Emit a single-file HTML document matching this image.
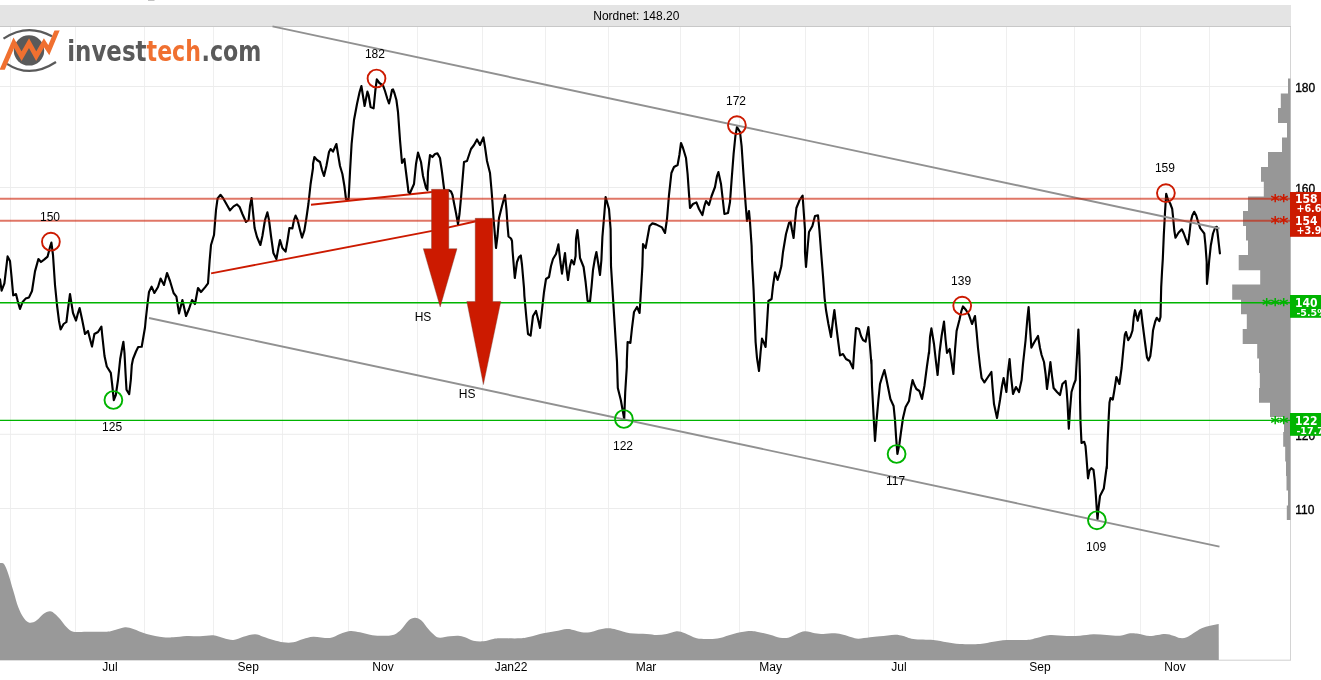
<!DOCTYPE html>
<html lang="en"><head><meta charset="utf-8"><title>Nordnet chart</title>
<style>html,body{margin:0;padding:0;background:#fff;overflow:hidden}body{width:1321px;height:680px;position:relative}</style>
</head><body>
<svg width="1321" height="680" viewBox="0 0 1321 680" style="position:absolute;left:0;top:0;display:block" font-family="'Liberation Sans', Arial, sans-serif">
<rect x="0" y="0" width="1321" height="680" fill="#ffffff"/>
<rect x="148" y="0" width="6.5" height="1" fill="#c2c2c2"/>
<line x1="10.5" y1="26" x2="10.5" y2="660" stroke="#efefef" stroke-width="1"/>
<line x1="75.5" y1="26" x2="75.5" y2="660" stroke="#efefef" stroke-width="1"/>
<line x1="144.5" y1="26" x2="144.5" y2="660" stroke="#efefef" stroke-width="1"/>
<line x1="213.5" y1="26" x2="213.5" y2="660" stroke="#efefef" stroke-width="1"/>
<line x1="282.5" y1="26" x2="282.5" y2="660" stroke="#efefef" stroke-width="1"/>
<line x1="348.5" y1="26" x2="348.5" y2="660" stroke="#efefef" stroke-width="1"/>
<line x1="417.5" y1="26" x2="417.5" y2="660" stroke="#efefef" stroke-width="1"/>
<line x1="482.5" y1="26" x2="482.5" y2="660" stroke="#efefef" stroke-width="1"/>
<line x1="545.5" y1="26" x2="545.5" y2="660" stroke="#efefef" stroke-width="1"/>
<line x1="608.5" y1="26" x2="608.5" y2="660" stroke="#efefef" stroke-width="1"/>
<line x1="680.5" y1="26" x2="680.5" y2="660" stroke="#efefef" stroke-width="1"/>
<line x1="739.5" y1="26" x2="739.5" y2="660" stroke="#efefef" stroke-width="1"/>
<line x1="805.5" y1="26" x2="805.5" y2="660" stroke="#efefef" stroke-width="1"/>
<line x1="868.5" y1="26" x2="868.5" y2="660" stroke="#efefef" stroke-width="1"/>
<line x1="933.5" y1="26" x2="933.5" y2="660" stroke="#efefef" stroke-width="1"/>
<line x1="1006.5" y1="26" x2="1006.5" y2="660" stroke="#efefef" stroke-width="1"/>
<line x1="1074.5" y1="26" x2="1074.5" y2="660" stroke="#efefef" stroke-width="1"/>
<line x1="1140.5" y1="26" x2="1140.5" y2="660" stroke="#efefef" stroke-width="1"/>
<line x1="1209.5" y1="26" x2="1209.5" y2="660" stroke="#efefef" stroke-width="1"/>
<line x1="0" y1="86.5" x2="1290" y2="86.5" stroke="#ececec" stroke-width="1"/>
<line x1="0" y1="187.5" x2="1290" y2="187.5" stroke="#ececec" stroke-width="1"/>
<line x1="0" y1="302.5" x2="1290" y2="302.5" stroke="#ececec" stroke-width="1"/>
<line x1="0" y1="434.3" x2="1290" y2="434.3" stroke="#ececec" stroke-width="1"/>
<line x1="0" y1="508.5" x2="1290" y2="508.5" stroke="#ececec" stroke-width="1"/>
<line x1="1290.5" y1="26" x2="1290.5" y2="660" stroke="#d4d4d4" stroke-width="1"/>
<line x1="0" y1="660.2" x2="1291" y2="660.2" stroke="#cfcfcf" stroke-width="1"/>
<rect x="0" y="5" width="1291" height="21" fill="#e4e4e4"/>
<line x1="0" y1="26.5" x2="1291" y2="26.5" stroke="#c8c8c8" stroke-width="1"/>
<text x="636.3" y="19.7" font-size="12" text-anchor="middle" fill="#000">Nordnet: 148.20</text>
<path d="M0,660 L0,563 C0.7,563.2 2.6,562.2 4,564 C5.4,565.8 6.8,569.5 8.3,574 C9.9,578.5 11.6,585.2 13.3,590.7 C15.0,596.2 16.6,602.9 18.3,607.3 C20.0,611.7 21.6,614.8 23.3,617.3 C25.0,619.8 26.6,621.5 28.3,622.3 C30.0,623.1 31.6,622.8 33.3,622.3 C35.0,621.8 36.6,620.4 38.3,619 C40.0,617.6 41.3,615.3 43.3,614 C45.2,612.7 48.0,611.3 50,611.3 C52.0,611.3 53.3,612.7 55,614 C56.7,615.3 58.0,616.8 60,619 C62.0,621.2 64.5,625.2 66.7,627.3 C68.9,629.4 70.0,631.0 73.3,631.7 C76.6,632.4 81.1,631.7 86.7,631.7 C92.3,631.7 102.0,632.0 106.7,631.7 C111.4,631.4 112.0,630.7 115,630 C118.0,629.3 122.0,627.5 125,627.3 C128.1,627.1 129.7,627.9 133.3,629 C136.9,630.1 141.7,632.6 146.7,634 C151.7,635.4 158.9,636.8 163.3,637.3 C167.7,637.8 169.4,637.5 173.3,637.3 C177.2,637.1 182.2,636.2 186.7,636 C191.1,635.8 195.6,636.4 200,636.3 C204.4,636.2 209.4,635.0 213.3,635.3 C217.2,635.6 220.0,637.2 223.3,638 C226.6,638.8 230.0,640.2 233.3,640 C236.6,639.8 239.7,637.7 243.3,636.7 C246.9,635.8 251.7,634.3 255,634.3 C258.3,634.3 260.2,635.8 263.3,636.7 C266.4,637.7 270.0,639.1 273.3,640 C276.6,640.9 280.0,641.9 283.3,642.3 C286.6,642.7 290.0,642.8 293.3,642.3 C296.6,641.8 300.0,639.9 303.3,639 C306.6,638.1 308.9,636.9 313.3,636.7 C317.8,636.5 325.6,638.5 330,638 C334.4,637.5 336.7,635.2 340,634 C343.3,632.8 346.7,631.3 350,631 C353.3,630.7 356.7,631.7 360,632.3 C363.3,632.9 366.7,634.1 370,634.7 C373.3,635.3 376.4,635.6 380,635.7 C383.6,635.8 388.4,636.1 391.7,635.3 C395.0,634.5 397.2,633.1 400,630.7 C402.8,628.3 405.8,622.9 408.3,620.7 C410.8,618.5 412.8,617.7 415,617.7 C417.2,617.7 419.5,618.8 421.7,620.7 C423.9,622.6 426.1,626.5 428.3,629 C430.5,631.5 433.1,634.2 435,635.7 C436.9,637.2 437.5,637.6 440,637.7 C442.5,637.8 446.9,636.6 450,636.3 C453.1,636.0 455.8,635.5 458.3,635.7 C460.8,635.9 462.5,636.5 465,637.3 C467.5,638.1 470.2,640.0 473.3,640.7 C476.4,641.4 480.0,641.6 483.3,641.3 C486.6,641.0 490.5,639.5 493.3,639 C496.1,638.5 495.6,638.4 500,638.3 C504.4,638.2 515.0,638.6 520,638.3 C525.0,638.0 526.1,637.5 530,636.7 C533.9,635.9 539.1,634.2 543.3,633.3 C547.5,632.4 551.1,632.0 555,631.3 C558.9,630.6 563.7,629.2 566.7,629 C569.8,628.8 570.8,629.5 573.3,630 C575.8,630.5 578.9,631.9 581.7,632.3 C584.5,632.7 587.2,632.7 590,632.3 C592.8,631.9 595.2,630.4 598.3,629.7 C601.3,629.0 605.2,628.3 608.3,628.3 C611.4,628.3 613.1,628.9 616.7,629.7 C620.3,630.5 625.0,632.6 630,633.3 C635.0,634.0 642.2,633.7 646.7,634 C651.2,634.3 653.4,635.0 656.7,635 C660.0,635.0 663.4,634.6 666.7,634 C670.0,633.4 673.7,631.4 676.7,631.3 C679.8,631.2 681.7,632.1 685,633.3 C688.3,634.5 692.5,637.3 696.7,638.3 C700.9,639.2 706.1,639.0 710,639 C713.9,639.0 716.1,638.8 720,638 C723.9,637.2 728.8,635.1 733.3,634 C737.8,632.9 742.8,631.7 746.7,631.3 C750.6,630.9 752.8,631.1 756.7,631.7 C760.6,632.3 766.1,633.7 770,634.7 C773.9,635.7 777.0,637.2 780,637.7 C783.0,638.2 785.5,638.3 788.3,637.7 C791.1,637.1 793.9,635.1 796.7,634 C799.5,632.9 802.0,631.4 805,631.3 C808.0,631.2 812.0,632.8 815,633.3 C818.0,633.8 820.0,634.0 823.3,634 C826.6,634.0 831.7,633.2 835,633.3 C838.3,633.4 840.5,634.0 843.3,634.7 C846.1,635.4 849.2,636.6 851.7,637.3 C854.2,638.0 855.2,638.7 858.3,638.7 C861.3,638.7 866.4,637.7 870,637.3 C873.6,636.9 875.8,636.7 880,636.3 C884.2,635.9 891.1,634.8 895,634.7 C898.9,634.7 900.2,635.3 903.3,636 C906.3,636.7 908.3,638.3 913.3,639 C918.3,639.7 927.7,639.5 933.3,640 C938.9,640.5 942.2,641.6 946.7,642.3 C951.2,643.0 954.5,643.7 960,644 C965.5,644.3 974.5,644.4 980,644 C985.5,643.6 988.8,642.4 993.3,641.7 C997.8,641.0 1001.1,640.3 1006.7,640 C1012.3,639.7 1021.7,640.3 1026.7,640 C1031.7,639.7 1032.8,638.8 1036.7,638 C1040.6,637.2 1045.0,635.3 1050,635 C1055.0,634.7 1061.7,635.9 1066.7,636 C1071.7,636.1 1075.6,636.0 1080,635.7 C1084.4,635.4 1088.8,634.4 1093.3,634.3 C1097.8,634.2 1102.2,634.8 1106.7,635 C1111.2,635.2 1116.1,636.0 1120,635.7 C1123.9,635.4 1127.0,633.6 1130,633.3 C1133.0,633.0 1135.0,633.2 1138.3,633.7 C1141.6,634.2 1145.5,636.0 1150,636 C1154.5,636.0 1161.1,634.0 1165,634 C1168.9,634.0 1170.8,635.0 1173.3,635.7 C1175.8,636.4 1177.8,637.7 1180,638 C1182.2,638.3 1184.5,638.1 1186.7,637.3 C1188.9,636.5 1190.8,634.8 1193.3,633.3 C1195.8,631.8 1198.9,629.6 1201.7,628.3 C1204.5,627.0 1207.2,626.4 1210,625.7 C1212.8,625.0 1217.2,624.3 1218.7,624 L1218.8,660 Z" fill="#999999"/>
<polygon points="1290.5,78.5 1288,78.5 1288,93.5 1280.8,93.5 1280.8,108 1278,108 1278,123 1287,123 1287,137.5 1282,137.5 1282,152 1268,152 1268,167 1261,167 1261,181.8 1263.8,181.8 1263.8,196.5 1248,196.5 1248,211 1243,211 1243,226 1246,226 1246,240.5 1248,240.5 1248,255 1238.7,255 1238.7,270.2 1260.2,270.2 1260.2,284.5 1232.2,284.5 1232.2,299.7 1241,299.7 1241,314.3 1246.8,314.3 1246.8,329 1242.7,329 1242.7,344 1257.2,344 1257.2,358.5 1259,358.5 1259,373 1259.8,373 1259.8,388 1259,388 1259,402.8 1270,402.8 1270,417 1284,417 1284,432 1283.2,432 1283.2,446.8 1285.2,446.8 1285.2,461.5 1286,461.5 1286,476 1286.5,476 1286.5,490.5 1288,490.5 1288,505.5 1286.8,505.5 1286.8,520 1290.5,520" fill="#979797"/>
<text x="1295.2" y="91.8" font-size="12" fill="#000" stroke="#000" stroke-width="0.35">180</text>
<text x="1295.2" y="192.8" font-size="12" fill="#000" stroke="#000" stroke-width="0.35">160</text>
<text x="1295.2" y="439.6" font-size="12" fill="#000" stroke="#000" stroke-width="0.35">120</text>
<text x="1295.2" y="513.8" font-size="12" fill="#000" stroke="#000" stroke-width="0.35">110</text>
<text x="110" y="671" font-size="12" text-anchor="middle" fill="#000">Jul</text>
<text x="248.3" y="671" font-size="12" text-anchor="middle" fill="#000">Sep</text>
<text x="383" y="671" font-size="12" text-anchor="middle" fill="#000">Nov</text>
<text x="511" y="671" font-size="12" text-anchor="middle" fill="#000">Jan22</text>
<text x="646" y="671" font-size="12" text-anchor="middle" fill="#000">Mar</text>
<text x="770.7" y="671" font-size="12" text-anchor="middle" fill="#000">May</text>
<text x="899" y="671" font-size="12" text-anchor="middle" fill="#000">Jul</text>
<text x="1040" y="671" font-size="12" text-anchor="middle" fill="#000">Sep</text>
<text x="1175" y="671" font-size="12" text-anchor="middle" fill="#000">Nov</text>
<line x1="311" y1="204.8" x2="432" y2="192" stroke="#cc1a00" stroke-width="1.9"/>
<polyline points="211.1,273.4 440,229.4 476,221.2" fill="none" stroke="#cc1a00" stroke-width="1.9"/>
<polyline points="0,279.4 1.6,290.6 4.4,283.4 7.6,256.4 10,261 11.6,277.4 13.2,295.4 16,294 17.6,300.6 20,309 22.6,302 25.6,298.6 29,297.4 32,291 35,271.4 38.4,259 41,262 44.4,259.4 47.6,256.6 50,247 51.4,242.6 53,255 55,285 57,305 59,321 60.6,329.4 63.6,324 66.4,322 68,309 70,294 71.4,303 73,313 76,320.6 78,313 79.6,308 82,319 85,334 88,331 90,339 92,346.6 94.4,334 98,332 101.4,326.6 102.2,335 104.5,356 106.8,366.5 110.8,372.8 112,383 113.8,400.2 115.8,395 118,380 120.2,359 122.2,347.8 123.4,341.8 124.5,353 125.5,372.5 126.5,389.8 129.2,394.2 130.8,380 131.8,365 133,359 136,351.5 138.2,347 141.7,346.7 143.2,338 145,327.5 145.6,321 147.6,303 149,292 151.6,286.6 154.4,293 158,287 160.6,278.6 164,285 167,273 170,281 173.6,293 176.4,296.6 179,313.4 182.4,300 186,316 189,309 192,300 195,304 198,288 201,292 205,287.4 208,283.4 209.6,261 211,245 214,235 216,210 217.6,198.4 220.4,194.8 223,198 226.4,204 230,210.4 233.6,206.4 237,204.4 239.6,207 242.4,214 246,222 248.6,220 250,206 251.6,198 253,212 254.6,228 257,237 260.4,245 262.4,236 265,220 267.4,212.4 269,220 271,236 273.4,253 276.4,259 278.4,248 280,240 282.4,248 285.6,251.6 287.6,240 289.4,228 292.4,228.4 294,220 295.6,215.6 297.6,220 300,230 302,237.6 304.4,230.4 306.4,218 308.4,204 310.6,184 313,168 313,164 314.4,157 317,160 320,162 322,170 324,176 326.4,166 329,152 330.6,149 333,151.6 336.4,144 338,154 340,166 342.4,174 344.4,186 346,199 348.6,199 350,172 351.6,144 354,120 357,104 359.6,92 361.4,86 363,96 364.6,106 367.4,91.6 368.6,95 370.6,107 373.6,108.4 375.4,90 376.8,79.4 379.4,83 383,85.4 385,91 387.4,99 389,103.4 390.4,98 392,90 393,89.4 394.4,93 396.4,100 398,112 400,140 402,163 404.4,159 406,172 408,188 408.4,192 410,193 414,184 416,164 418,152.6 421,162 423,176 426,188 427.4,190 428,172 430,155 432.4,157 435,154 437.4,153.4 440,158 442,172 443.6,185 444.4,191 448.8,190.3 451,191.5 452.5,195 454,203 456,213 458,224 459.5,214 461,198 464,162 467,161 469,155 471,149 474,145 477,139.4 480,145 483.4,137.4 485,147 487,161 490,173 491.5,190 492.5,203 493.5,218 495,236 496,248 497.5,236 499,218 502,206 505,195 506.5,210 507.5,225 508.5,236.5 511,238.5 512,241 512.5,250 514.8,278 517,262 519,257 520.8,255.5 522,265 524,288 524.4,296 526.4,318 528,334 530.6,335.6 533,316 536,311 538,319 540,328 542,310 544,292 546,279 549,277 551,266 553,259 556,254 558.4,244.4 560.4,262 562,273.6 563.6,262 565,253 566.4,268 568,280 570,266 571.6,260 574,264.4 575.6,256 576,239 577.4,230 579,245 580,258 583.6,267 585.6,282 587.6,301 590,301.6 591.6,286 593,270 595,258 596.4,252 598,262 600,275 601.4,260 602.4,237 604.4,213 605.6,197 609,209 610.6,229 611,266 613,298 615,330 617,362 617.8,388 620.8,400 624.2,418.8 625.2,392.5 626.8,367 626.8,362 627.6,342 630.4,343 632,328 634,312 637,307 639.6,313 641,290 642.4,266 643,244 645.6,248 647.6,237 649.6,226 652.4,223.4 656,224.4 662,227.4 665,233 667,219 669,195 671.4,173 674,167 677.6,165 679.4,155 681,143 683,148 686,158 687.6,174 689,194 690,208 693,204 696.4,202.4 699,209 702.4,215 704.4,206 706,201 709,205 711.6,196 715,187 717,176 718.4,172 721,184 722.6,198 724.4,214 728,213 730,202 731.6,180 733.6,154 735.4,136 737,127 740,132 741.6,146 743.6,176 745.6,204 747,221 749,211 750,222 751.6,246 752,260 753.6,290 754.6,316 755.6,342 757,358 759,371 760.6,352 762,338.6 764,343 765.6,347 767,324 768.4,301 771.6,299 773,286 775,272.4 777.6,280 779.4,274 781.4,266 783,252 786,234 789,223 790.6,222 792,230 793.6,238 795,222 796.4,208 799.6,200 802.6,195.6 803.6,210 805,230 805,252 806,267 807.4,250 809,232 812.4,226 815,216 818,215.4 819.4,230 821.4,256 823,276 824.6,298 826,310 828.4,324 831,337 833,320 834.4,310 836,324 838,340 840,355.4 843,354 846,359 849.6,361 853,368.4 854.4,348 856,328 859,329 861,336 863,340 865.6,341.6 867,334 868.4,327 870,346 871.4,364 871.4,360 872,386 873.6,416 875,441 876.6,420 878.4,400 880,384 882.4,376 884.4,370 886.4,379 888.4,389 890.4,399 893.6,406 895,420 896,436 897.4,454 899.4,444 901,432 903,418 905.6,407 909,401 911,388 912.6,380 914.4,385 916.4,389 919.4,391 922,399 924.4,386 927,366 929,352 929,354 930,337 931.4,328.4 934,344 936,362 937.6,375 939.6,352 941.6,336 944,321.6 945.6,340 947,353 949.6,349 951.6,362 953.4,374 955,350 956.6,331 959.4,320 961.4,311 963,306.4 966,310 969,315 972,324 975,316 976.6,332 978,348 980,366 981.6,378 984.4,382.4 988,377 991.4,372 992.6,388 994,404 997,418 1000,400 1002,386 1003.6,378 1006.4,392 1008,372 1009.6,359 1011,376 1013,394 1016,387 1019,392 1021.6,380 1023,364 1025.6,340 1027.4,318 1028.6,307 1030,328 1031.4,347.6 1034.4,342 1038,336 1040,348 1041.6,355 1044,362 1045.6,374 1047,389 1049,374 1050.4,362 1052,376 1053.6,388 1057,392 1060,395 1062.4,384 1065.6,381 1066.6,390 1067.5,402.5 1068.8,428.8 1070,410 1071.5,392 1073.8,384.5 1075.6,380 1077,356 1078.4,329.6 1079.4,356 1080,380 1080,398 1080.5,422 1081.5,443 1084.2,441.8 1085.5,446 1086.5,458 1088,478.2 1088,478.3 1089.5,470.5 1091.3,468.2 1093.5,469.8 1094.8,481 1095.8,494.5 1096.7,508 1097.5,519.2 1098.5,508 1100,496 1103.8,488.5 1105.2,478 1106.8,466 1106.8,468.5 1107.5,444.5 1108.7,417.5 1109.5,402.5 1110.5,398 1112.8,399.5 1114.2,391.2 1115.5,383 1116.4,377 1119.4,384 1121.6,368 1123.3,350 1124.8,335 1126,332 1128.2,340.2 1130.5,336.5 1132.5,330.5 1133.8,317 1135,310.2 1137.7,320.8 1139.5,312.5 1141,310.2 1142.5,323 1144.8,341 1147,357.5 1148.5,360.5 1150.3,356 1151.8,344 1153,330.5 1155.2,321.5 1156.8,317.8 1159.3,321.2 1160.5,317 1160.8,303.5 1161.2,287 1162,272 1162.8,259 1163.8,235 1165,212.5 1166.2,193.8 1168,199.8 1170.2,203.5 1172.2,208.8 1173.2,218.5 1174.3,230.5 1175.5,237.7 1178.5,232.8 1181.8,229.3 1183.8,233.5 1186,239.5 1188,244.3 1189.3,235 1190.8,221.5 1192.3,215.5 1194.2,211.8 1196.2,215.5 1198,221.5 1200.2,228.2 1202.5,231.2 1204.3,233.5 1205.5,245.5 1206.7,262 1206.7,272 1207,284 1208.5,269 1209.2,260.5 1210.8,245.5 1213,233.5 1215.2,227.5 1216.8,226.8 1217.8,235 1219,245.5 1219.9,253.3" fill="none" stroke="#000" stroke-width="2.15" stroke-linejoin="round" stroke-linecap="round"/>
<line x1="272.5" y1="26.4" x2="1219.5" y2="228.5" stroke="#919191" stroke-width="1.9"/>
<line x1="149" y1="318" x2="1219.5" y2="546.6" stroke="#919191" stroke-width="1.9"/>
<line x1="0" y1="198.8" x2="1290" y2="198.8" stroke="#cc1a00" stroke-opacity="0.6" stroke-width="1.9"/>
<line x1="0" y1="220.8" x2="1290" y2="220.8" stroke="#cc1a00" stroke-opacity="0.6" stroke-width="1.9"/>
<line x1="0" y1="302.7" x2="1290" y2="302.7" stroke="#00b400" stroke-width="1.6"/>
<line x1="0" y1="420.3" x2="1290" y2="420.3" stroke="#00b400" stroke-width="1.2"/>
<polygon points="431.5,189.3 448.8,189.3 448.8,248.7 457,248.7 440.2,307 423.3,248.7 431.5,248.7" fill="#cc1a00" stroke="#7a4a40" stroke-width="0.4"/>
<polygon points="475.2,218.3 492.8,218.3 492.8,301.5 500.8,301.5 483.4,384.6 466.8,301.5 475.2,301.5" fill="#cc1a00" stroke="#7a4a40" stroke-width="0.4"/>
<circle cx="50.9" cy="241.7" r="8.9" fill="none" stroke="#cc1a00" stroke-width="1.9"/>
<circle cx="376.5" cy="78.5" r="8.9" fill="none" stroke="#cc1a00" stroke-width="1.9"/>
<circle cx="736.9" cy="125.2" r="8.9" fill="none" stroke="#cc1a00" stroke-width="1.9"/>
<circle cx="962.2" cy="305.7" r="8.9" fill="none" stroke="#cc1a00" stroke-width="1.9"/>
<circle cx="1165.9" cy="193.1" r="8.9" fill="none" stroke="#cc1a00" stroke-width="1.9"/>
<circle cx="113.4" cy="400" r="8.9" fill="none" stroke="#00b400" stroke-width="1.9"/>
<circle cx="623.9" cy="419" r="8.9" fill="none" stroke="#00b400" stroke-width="1.9"/>
<circle cx="896.6" cy="454" r="8.9" fill="none" stroke="#00b400" stroke-width="1.9"/>
<circle cx="1096.9" cy="520.3" r="8.9" fill="none" stroke="#00b400" stroke-width="1.9"/>
<text x="50" y="220.6" font-size="12" text-anchor="middle" fill="#000">150</text>
<text x="374.9" y="57.7" font-size="12" text-anchor="middle" fill="#000">182</text>
<text x="736" y="104.9" font-size="12" text-anchor="middle" fill="#000">172</text>
<text x="1164.9" y="171.75" font-size="12" text-anchor="middle" fill="#000">159</text>
<text x="961.1" y="284.9" font-size="12" text-anchor="middle" fill="#000">139</text>
<text x="112.1" y="430.75" font-size="12" text-anchor="middle" fill="#000">125</text>
<text x="623" y="449.8" font-size="12" text-anchor="middle" fill="#000">122</text>
<text x="895.5" y="484.9" font-size="12" text-anchor="middle" fill="#000">117</text>
<text x="1096.1" y="550.75" font-size="12" text-anchor="middle" fill="#000">109</text>
<text x="423.05" y="320.8" font-size="12" text-anchor="middle" fill="#000">HS</text>
<text x="467.1" y="397.8" font-size="12" text-anchor="middle" fill="#000">HS</text>
<text x="1283.6" y="207" font-size="18" font-weight="bold" text-anchor="middle" fill="#cc1a00" font-family="DejaVu Sans, sans-serif">*</text>
<text x="1275.15" y="207" font-size="18" font-weight="bold" text-anchor="middle" fill="#cc1a00" font-family="DejaVu Sans, sans-serif">*</text>
<text x="1283.6" y="229" font-size="18" font-weight="bold" text-anchor="middle" fill="#cc1a00" font-family="DejaVu Sans, sans-serif">*</text>
<text x="1275.15" y="229" font-size="18" font-weight="bold" text-anchor="middle" fill="#cc1a00" font-family="DejaVu Sans, sans-serif">*</text>
<text x="1283.6" y="310.9" font-size="18" font-weight="bold" text-anchor="middle" fill="#00b400" font-family="DejaVu Sans, sans-serif">*</text>
<text x="1275.15" y="310.9" font-size="18" font-weight="bold" text-anchor="middle" fill="#00b400" font-family="DejaVu Sans, sans-serif">*</text>
<text x="1266.7" y="310.9" font-size="18" font-weight="bold" text-anchor="middle" fill="#00b400" font-family="DejaVu Sans, sans-serif">*</text>
<text x="1283.6" y="428.5" font-size="18" font-weight="bold" text-anchor="middle" fill="#00b400" font-family="DejaVu Sans, sans-serif">*</text>
<text x="1275.15" y="428.5" font-size="18" font-weight="bold" text-anchor="middle" fill="#00b400" font-family="DejaVu Sans, sans-serif">*</text>
<rect x="1290" y="192" width="31" height="44.8" fill="#cc1a00"/>
<rect x="1290" y="295" width="31" height="22.8" fill="#00b400"/>
<rect x="1290" y="413" width="31" height="22.8" fill="#00b400"/>
<text x="1295" y="202.5" font-size="11.6" font-family="'DejaVu Sans', 'Liberation Sans', sans-serif" font-weight="bold" fill="#fff" textLength="22.6" lengthAdjust="spacingAndGlyphs">158</text>
<text x="1296.4" y="212" font-size="9.6" font-family="'DejaVu Sans', 'Liberation Sans', sans-serif" font-weight="bold" fill="#fff">+6.6%</text>
<text x="1295" y="224.5" font-size="11.6" font-family="'DejaVu Sans', 'Liberation Sans', sans-serif" font-weight="bold" fill="#fff" textLength="22.6" lengthAdjust="spacingAndGlyphs">154</text>
<text x="1296.4" y="233.8" font-size="9.6" font-family="'DejaVu Sans', 'Liberation Sans', sans-serif" font-weight="bold" fill="#fff">+3.9%</text>
<text x="1295" y="306.5" font-size="11.6" font-family="'DejaVu Sans', 'Liberation Sans', sans-serif" font-weight="bold" fill="#fff" textLength="22.6" lengthAdjust="spacingAndGlyphs">140</text>
<text x="1296.4" y="316" font-size="9.5" font-family="'DejaVu Sans', 'Liberation Sans', sans-serif" font-weight="bold" fill="#fff">-5.5%</text>
<text x="1295" y="424.5" font-size="11.6" font-family="'DejaVu Sans', 'Liberation Sans', sans-serif" font-weight="bold" fill="#fff" textLength="22.6" lengthAdjust="spacingAndGlyphs">122</text>
<text x="1296.4" y="434" font-size="9.5" font-family="'DejaVu Sans', 'Liberation Sans', sans-serif" font-weight="bold" fill="#fff">-17.7%</text>
<g>
<circle cx="29" cy="50.4" r="15.2" fill="#5a5a5a"/>
<path d="M3.5,38.6 Q27,22.8 52,36.2" fill="none" stroke="#5a5a5a" stroke-width="2.2"/>
<path d="M7,63.8 Q30,79 56,62" fill="none" stroke="#5a5a5a" stroke-width="2.2"/>
<clipPath id="lc"><rect x="-2" y="30.4" width="64" height="39.3"/></clipPath>
<polyline clip-path="url(#lc)" points="1.2,72 13.8,42.9 21.6,56.2 29,43.1 36.2,56.2 44,42.9 48.8,50.2 58.5,27" fill="none" stroke="#f07030" stroke-width="4.8" stroke-linejoin="miter" stroke-miterlimit="10"/>
<text x="67.2" y="61.1" font-family="'DejaVu Sans Condensed', 'DejaVu Sans', 'Liberation Sans', sans-serif" font-weight="bold" font-size="28" fill="#5a5a5a" textLength="79.4" lengthAdjust="spacingAndGlyphs">invest</text>
<text x="146.6" y="61.1" font-family="'DejaVu Sans Condensed', 'DejaVu Sans', 'Liberation Sans', sans-serif" font-weight="bold" font-size="28" fill="#f07030" textLength="54.3" lengthAdjust="spacingAndGlyphs">tech</text>
<text x="201.6" y="61.1" font-family="'DejaVu Sans Condensed', 'DejaVu Sans', 'Liberation Sans', sans-serif" font-weight="bold" font-size="28" fill="#5a5a5a" textLength="59.8" lengthAdjust="spacingAndGlyphs">.com</text>
</g>
</svg>
</body></html>
